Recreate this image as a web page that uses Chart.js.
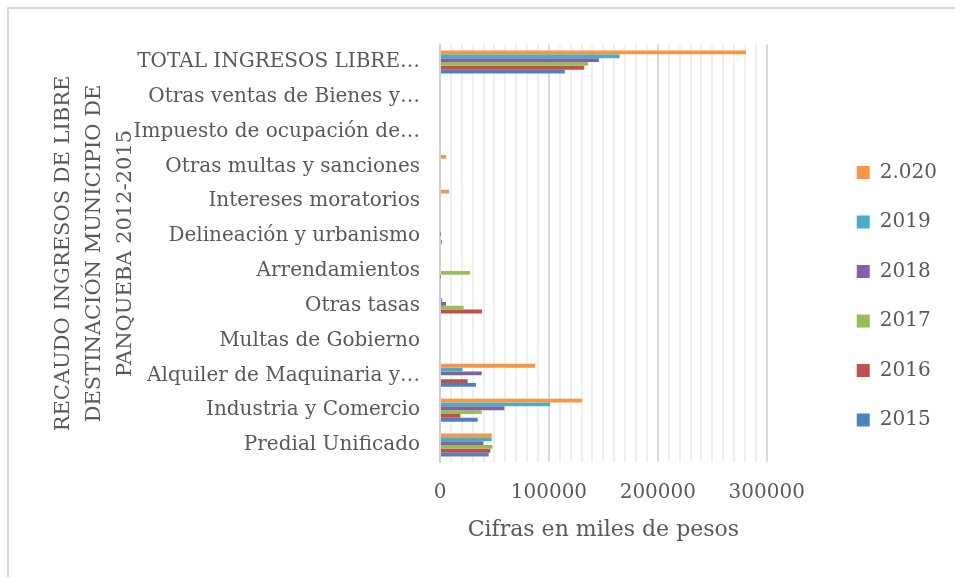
<!DOCTYPE html>
<html><head><meta charset="utf-8">
<script src="https://cdn.jsdelivr.net/npm/chart.js@4.4.1/dist/chart.umd.min.js"></script>
<style>
html,body{margin:0;padding:0;background:#fff;}
#wrap{position:relative;width:955px;height:577px;overflow:hidden;}
#frame{position:absolute;left:7px;top:7px;width:960px;height:580px;border-top:2px solid #d9d9d9;border-left:2px solid #d9d9d9;pointer-events:none;}
canvas{display:block;}
</style></head><body>
<div id="wrap"><canvas id="c" width="955" height="577"></canvas><div id="frame"></div></div>
<script>
const categories = [
  'TOTAL INGRESOS LIBRE…',
  'Otras ventas de Bienes y…',
  'Impuesto de ocupación de…',
  'Otras multas y sanciones',
  'Intereses moratorios',
  'Delineación y urbanismo',
  'Arrendamientos',
  'Otras tasas',
  'Multas de Gobierno',
  'Alquiler de Maquinaria y…',
  'Industria y Comercio',
  'Predial Unificado'
];
const seriesNames = ['2.020', '2019', '2018', '2017', '2016', '2015'];
const v2020 = [281000, 0, 0, 5500, 8500, 0, 0, 0, 0, 87300, 130500, 47500];
const v2019 = [164900, 0, 0, 0, 0, 900, 0, 2100, 0, 20800, 101100, 47500];
const v2018 = [145900, 0, 0, 0, 0, 300, 0, 5500, 0, 38300, 59100, 39800];
const v2017 = [135800, 0, 0, 0, 0, 0, 27500, 21700, 0, 0, 38300, 48100];
const v2016 = [132400, 0, 0, 0, 0, 1700, 300, 38600, 0, 25400, 18700, 46200];
const v2015 = [114600, 0, 0, 0, 0, 0, 0, 0, 0, 33100, 34600, 44700];
const xTickLabels = ['0', '100000', '200000', '300000'];
const yTitle = ['RECAUDO INGRESOS DE LIBRE', 'DESTINACIÓN MUNICIPIO DE', 'PANQUEBA 2012-2015'];
const xTitle = 'Cifras en miles de pesos';

const colors = ['#F79646', '#4BACC6', '#8064A2', '#9BBB59', '#C0504D', '#4F81BD'];
const values = [v2020, v2019, v2018, v2017, v2016, v2015];
const FONT = 'DejaVu Serif';
const TXT = '#595959';

const datasets = seriesNames.map((n, i) => ({
  label: n,
  data: values[i],
  backgroundColor: colors[i],
  borderWidth: 0,
  categoryPercentage: 0.66,
  barPercentage: 1.0
}));

new Chart(document.getElementById('c'), {
  type: 'bar',
  data: { labels: categories, datasets },
  options: {
    indexAxis: 'y',
    responsive: false,
    animation: false,
    devicePixelRatio: 1,
    layout: { padding: { left: 48.5, top: 44.6, right: 8, bottom: 29.1 } },
    plugins: {
      tooltip: { enabled: false },
      legend: {
        position: 'right',
        labels: {
          font: { family: FONT, size: 20 },
          color: TXT,
          boxWidth: 13,
          boxHeight: 13,
          padding: 29.5
        }
      }
    },
    scales: {
      x: {
        min: 0, max: 300000,
        afterFit: s => { s.height = 85.5; },
        border: { display: false },
        grid: {
          drawTicks: false,
          color: c => (c.tick && c.tick.value % 100000 === 0) ? '#d9d9d9' : '#efefef',
          lineWidth: 2
        },
        ticks: {
          stepSize: 10000,
          autoSkip: false,
          maxRotation: 0,
          padding: 18.6,
          color: TXT,
          font: { family: FONT, size: 20 },
          callback: v => {
            const s = String(v);
            return xTickLabels.includes(s) ? s : '';
          }
        },
        title: {
          display: true,
          text: xTitle,
          color: TXT,
          font: { family: FONT, size: 22 },
          padding: { top: 0, bottom: 4.3 }
        }
      },
      y: {
        afterFit: s => { s.width = 440 - 48.5; },
        grid: { display: false, drawTicks: false },
        border: { display: true, color: '#d0d0d0', width: 2 },
        ticks: {
          color: TXT,
          padding: 20,
          font: { family: FONT, size: 20 }
        },
        title: {
          display: true,
          text: yTitle,
          color: TXT,
          font: { family: FONT, size: 21, lineHeight: 31 / 21 },
          padding: { top: 0, bottom: 0 }
        }
      },
      spacer: {
        type: 'linear',
        position: 'right',
        display: true,
        afterFit: s => { s.width = 60.5; },
        grid: { display: false, drawTicks: false },
        border: { display: false },
        ticks: { display: false },
        title: { display: false }
      }
    }
  }
});
</script>
</body></html>
